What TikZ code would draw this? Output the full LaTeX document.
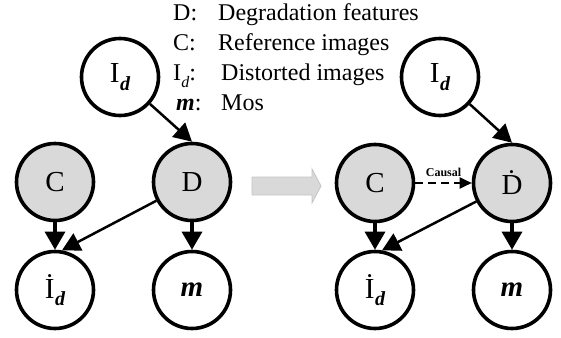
\documentclass[tikz,border=0pt]{standalone}
\usepackage{fontspec}
\setmainfont{Liberation Serif}
\usetikzlibrary{arrows.meta}
\definecolor{shade}{HTML}{D9D9D9}
\definecolor{shadeedge}{HTML}{C4C4C4}
% subscript d used in the variable names
\newcommand{\subd}[1]{\kern0.5pt\raisebox{-0.25em}{\fontsize{#1}{#1}\selectfont\bfseries\itshape d}}
\newcommand{\legsubd}{\kern0.3pt\raisebox{-0.3em}{\fontsize{16}{16}\selectfont\itshape d}}
\begin{document}
\begin{tikzpicture}[x=1pt,y=-1pt,
  var/.style={circle, draw=black, line width=3.6pt, minimum size=77pt, inner sep=0pt,
    font=\fontsize{29}{31}\selectfont},
  obs/.style={var, fill=shade},
  edge/.style={line width=2.5pt, -{Triangle[length=18pt,width=19pt]}},
  down/.style={line width=3.2pt, -{Triangle[length=18pt,width=20pt]}},
  causal/.style={line width=2pt, dash pattern=on 8pt off 5pt, -{Triangle[length=12pt,width=11pt]}},
  legend/.style={anchor=base west, inner sep=0pt, font=\fontsize{24}{28}\selectfont}]
\useasboundingbox (0,0) rectangle (561,337);

% legend
\node[legend] (kD) at (173,21) {D:};
\node[legend] (tD) at (218,21) {Degradation features};
\node[legend] (kC) at (173,50) {C:};
\node[legend] (tC) at (218,50) {Reference images};
\node[legend] (kI) at (173,80) {I\legsubd:};
\node[legend] (tI) at (221,80) {Distorted images};
\node[legend] (km) at (176,110) {\textbf{\textit{m}}:};
\node[legend] (tm) at (221,110) {Mos};

% original graph
\node[var] (IdA)   at (120,77)  {I\subd{20}};
\node[obs] (CA)    at (55,182)  {C};
\node[obs] (DA)    at (192,182) {D};
\node[var] (IdotA) at (55,290)  {\.{I}\subd{20}};
\node[var] (mA)    at (192,290) {\textbf{\textit{m}}};

\draw[edge] (IdA) -- (DA.north);
\draw[down] (CA) -- (IdotA);
\draw[edge] (DA) -- (IdotA.80);
\draw[down] (DA) -- (mA);

% transition arrow
\filldraw[fill=shade, draw=shadeedge, line width=0.8pt]
  (252,177) -- (312,177) -- (312,169) -- (321,186) -- (312,203) -- (312,195) -- (252,195) -- cycle;

% intervened graph
\node[var] (IdB)   at (440,77)  {I\subd{20}};
\node[obs] (CB)    at (375,183) {C};
\node[obs] (DB)    at (512,183) {\.{D}};
\node[var] (IdotB) at (375,290) {\.{I}\subd{20}};
\node[var] (mB)    at (512,290) {\textbf{\textit{m}}};

\draw[edge] (IdB) -- (DB.north);
\draw[causal] (CB) -- node[midway, above=5pt, inner sep=0pt, font=\fontsize{12}{12}\selectfont\bfseries] {Causal} (DB);
\draw[down] (CB) -- (IdotB);
\draw[edge] (DB) -- (IdotB.80);
\draw[down] (DB) -- (mB);
\end{tikzpicture}
\end{document}
